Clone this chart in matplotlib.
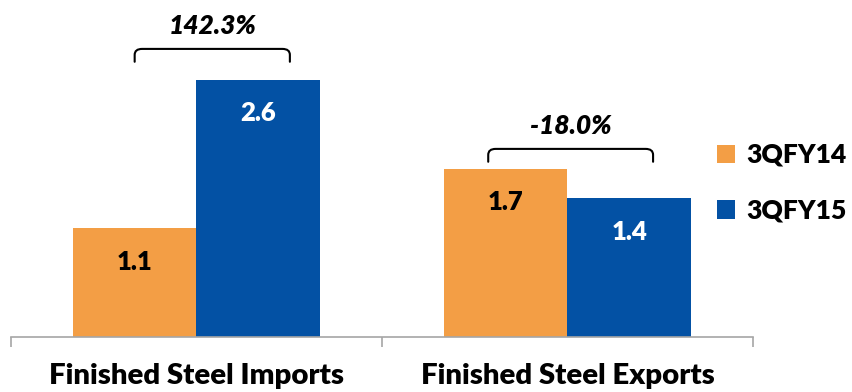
import matplotlib
matplotlib.use("Agg")
import matplotlib.pyplot as plt
import numpy as np
from matplotlib.path import Path
from matplotlib.patches import PathPatch

categories = ["Finished Steel Imports", "Finished Steel Exports"]
series_names = ["3QFY14", "3QFY15"]
fy14 = [1.1, 1.7]
fy15 = [2.6, 1.4]
changes = ["142.3%", "-18.0%"]

orange = "#F39E45"
blue = "#0351A4"
FONT = "Lato"
WEIGHT = "heavy"

fig = plt.figure(figsize=(8.53, 3.92), dpi=100)
ax = fig.add_axes([11 / 853, 55 / 392, 742 / 853, 297 / 392])

x = np.arange(len(categories))
w = 1 / 3
b1 = ax.bar(x - w / 2, fy14, w, color=orange, label=series_names[0])
b2 = ax.bar(x + w / 2, fy15, w, color=blue, label=series_names[1])

ax.set_xlim(-0.5, len(categories) - 0.5)
ax.set_ylim(0, 3.0)

# value labels inside the bars
for bars, vals, col in ((b1, fy14, "black"), (b2, fy15, "white")):
    for rect, v in zip(bars, vals):
        ax.text(rect.get_x() + rect.get_width() / 2, v - 0.34, f"{v:.1f}",
                ha="center", va="center", fontsize=18.5, fontweight=WEIGHT,
                color=col, family=FONT)

# change brackets above each pair
bracket_gap = [0.31, 0.20]
left_off = [0.0, -0.047]
right_off = [0.085, 0.064]
for i, (a, b) in enumerate(zip(fy14, fy15)):
    xl = x[i] - w / 2 + left_off[i]
    xr = x[i] + w / 2 + right_off[i]
    top = max(a, b) + bracket_gap[i]
    low = top - 0.13
    rx, ry = 0.02, 0.06
    verts = [(xl, low), (xl, top - ry), (xl, top), (xl + rx, top),
             (xr - rx, top), (xr, top), (xr, top - ry), (xr, low)]
    codes = [Path.MOVETO, Path.LINETO, Path.CURVE3, Path.CURVE3,
             Path.LINETO, Path.CURVE3, Path.CURVE3, Path.LINETO]
    ax.add_patch(PathPatch(Path(verts, codes), fill=False, lw=1.5,
                           ec="black", clip_on=False, capstyle="round"))
    ax.text((xl + xr) / 2, top + 0.23, changes[i], ha="center", va="center",
            fontsize=19, fontweight=WEIGHT, fontstyle="italic",
            family=FONT, clip_on=False)

# axes styling
for s in ("top", "right", "left"):
    ax.spines[s].set_visible(False)
ax.spines["bottom"].set_color("#A6A6A6")
ax.spines["bottom"].set_linewidth(1.2)
ax.set_yticks([])
ax.set_xticks(x)
ax.set_xticklabels(categories, fontsize=21.2, fontweight=WEIGHT, family=FONT)
ax.tick_params(axis="x", which="major", length=0, pad=19)
ax.set_xticks([-0.5, 0.5, 1.5], minor=True)
ax.tick_params(axis="x", which="minor", length=7, width=1.2, color="#A6A6A6")

leg = fig.legend(loc="upper left", bbox_to_anchor=(717 / 853, 1 - 143 / 392),
                 frameon=False, prop={"family": FONT, "weight": WEIGHT, "size": 19},
                 handlelength=0.7, handleheight=0.7, handletextpad=0.42,
                 labelspacing=1.2, borderpad=0, borderaxespad=0)

fig.savefig("out.png", dpi=100)
